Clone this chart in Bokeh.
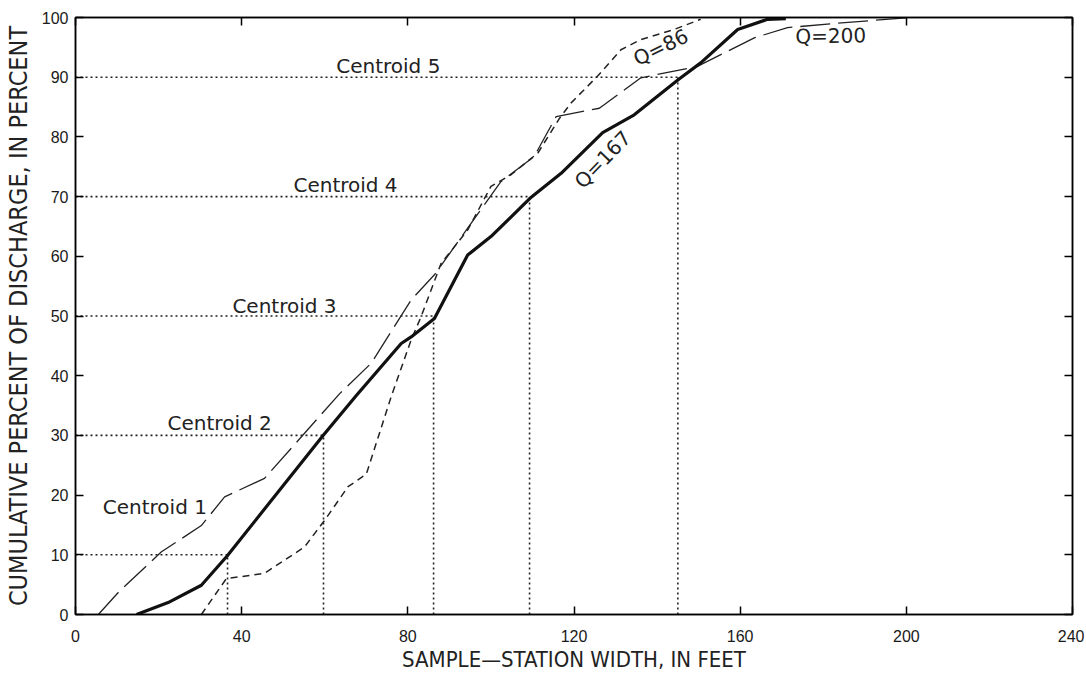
import math
from bokeh.plotting import figure
from bokeh.models import Range1d, LinearAxis, FixedTicker, ColumnDataSource, CustomJSTickFormatter
from bokeh.core.properties import value
from bokeh.embed import file_html
from bokeh.resources import INLINE

# ---- data ----
q167_x = [14.7, 22.3, 30.3, 36.5, 59.6, 67.6, 78.4, 80.8, 86.4, 94.4, 100, 109.7, 116.9, 126.9, 134.5, 145.3, 150.5, 159.4, 166.6, 171]
q167_y = [0, 2, 4.9, 9.8, 30, 36.7, 45.4, 46.5, 49.6, 60.2, 63.3, 69.9, 73.9, 80.7, 83.7, 89.7, 92.4, 98, 99.7, 99.8]

q200_x = [5.5, 10.7, 20.7, 30.3, 35.9, 45.5, 63.6, 71.2, 80.8, 86.4, 94.4, 102.4, 110.4, 115.7, 126.1, 136.1, 149.7, 163.4, 171.4, 182.6, 201]
q200_y = [0, 4, 10.5, 14.9, 19.7, 22.8, 37, 42.1, 52.7, 56.9, 64.7, 72.5, 76.7, 83.4, 84.8, 89.9, 91.8, 96.6, 98.3, 99, 100]

q86_x = [30.3, 36.3, 45.5, 55.1, 60, 65.6, 70, 76, 80.8, 83.2, 88, 94.4, 100, 104.9, 111.3, 116.5, 119.3, 125.7, 131.3, 136.1, 144.1, 150.5]
q86_y = [0, 6, 6.9, 11.3, 15.8, 21.4, 23.5, 36.5, 46, 49.9, 58.8, 64.4, 71.7, 73.7, 77.3, 83.1, 85.7, 90.2, 94.6, 96.3, 98, 99.7]

centroid_pct = [10, 30, 50, 70, 90]
centroid_width = [36.6, 59.7, 86.2, 109.3, 145.0]
centroid_names = ["Centroid 1", "Centroid 2", "Centroid 3", "Centroid 4", "Centroid 5"]

x_ticks = [0, 40, 80, 120, 160, 200, 240]
y_ticks = [0, 10, 20, 30, 40, 50, 60, 70, 80, 90, 100]

# annotation anchors (label placement)
centroid_label_x = [19.1, 34.7, 50.3, 65.0, 75.3]
centroid_label_y = [18.0, 32.0, 51.6, 72.0, 91.8]
q_names = ["Q=86", "Q=200", "Q=167"]
q_label_x = [140.9, 181.8, 126.9]
q_label_y = [95.0, 96.9, 76.2]
q_label_deg = [26, 1, 46]

COND = "'DejaVu Sans Condensed', 'Liberation Sans Narrow', Roboto, sans-serif"

p = figure(width=1084, height=674, output_backend="svg", toolbar_location=None,
           x_range=Range1d(0, 240), y_range=Range1d(0, 100),
           min_border_left=74, min_border_right=12, min_border_top=17, min_border_bottom=60)
p.background_fill_color = "white"
p.border_fill_color = "white"
p.grid.visible = False
p.outline_line_color = "black"
p.outline_line_width = 1.5

for ax in p.xaxis + p.yaxis:
    ax.major_tick_in = 8
    ax.major_tick_out = 0
    ax.minor_tick_in = 0
    ax.minor_tick_out = 0
    ax.axis_line_color = "black"
    ax.axis_line_width = 1.5
    ax.major_tick_line_width = 1.5
    ax.major_label_text_font = "Liberation Sans"
    ax.major_label_text_font_size = "16px"
    ax.major_label_text_color = "#1a1a1a"
    ax.axis_label_text_font = COND
    ax.axis_label_text_font_style = "normal"
    ax.axis_label_text_color = "#222222"

p.xaxis.ticker = FixedTicker(ticks=x_ticks)
p.yaxis.ticker = FixedTicker(ticks=y_ticks)
p.xaxis.axis_label = "SAMPLE\u2014STATION WIDTH, IN FEET"
p.yaxis.axis_label = "CUMULATIVE PERCENT OF DISCHARGE, IN PERCENT"
p.xaxis.axis_label_text_font_size = "22px"
p.yaxis.axis_label_text_font_size = "25px"
p.xaxis.major_label_standoff = 15
p.yaxis.major_label_standoff = 7
p.xaxis.axis_label_standoff = 2
p.yaxis.axis_label_standoff = 6

blank = CustomJSTickFormatter(code="return ''")
top = LinearAxis(ticker=FixedTicker(ticks=x_ticks), formatter=blank, major_label_text_font_size="1px",
                 major_tick_in=8, major_tick_out=0, minor_tick_in=0, minor_tick_out=0,
                 axis_line_width=1.5, major_tick_line_width=1.5, major_label_standoff=0)
right = LinearAxis(ticker=FixedTicker(ticks=y_ticks), formatter=blank, major_label_text_font_size="1px",
                   major_tick_in=8, major_tick_out=0, minor_tick_in=0, minor_tick_out=0,
                   axis_line_width=1.5, major_tick_line_width=1.5, major_label_standoff=0)
p.add_layout(top, "above")
p.add_layout(right, "right")

# centroid dotted guides
dot = dict(line_color="#222222", line_width=1.6, line_dash="2 3")
p.segment(x0=[0] * 5, y0=centroid_pct, x1=centroid_width, y1=centroid_pct, **dot)
p.segment(x0=centroid_width, y0=[0] * 5, x1=centroid_width, y1=centroid_pct, **dot)

# curves
p.line(q200_x, q200_y, line_color="#222222", line_width=1.3, line_dash="30 8")
p.line(q86_x, q86_y, line_color="#222222", line_width=1.5, line_dash="7 5")
p.line(q167_x, q167_y, line_color="#111111", line_width=3.2, line_join="round")

# labels
p.text(x=centroid_label_x, y=centroid_label_y, text=centroid_names,
       text_font=value("DejaVu Sans"), text_font_size="20px", text_color="#222222",
       text_align="center", text_baseline="middle")
src = ColumnDataSource(dict(x=q_label_x, y=q_label_y, t=q_names,
                            a=[math.radians(d) for d in q_label_deg]))
p.text(x="x", y="y", text="t", angle="a", source=src,
       text_font=value("DejaVu Sans"), text_font_size="20px", text_color="#222222",
       text_align="center", text_baseline="middle")

open("out.html", "w").write(file_html(p, INLINE))
